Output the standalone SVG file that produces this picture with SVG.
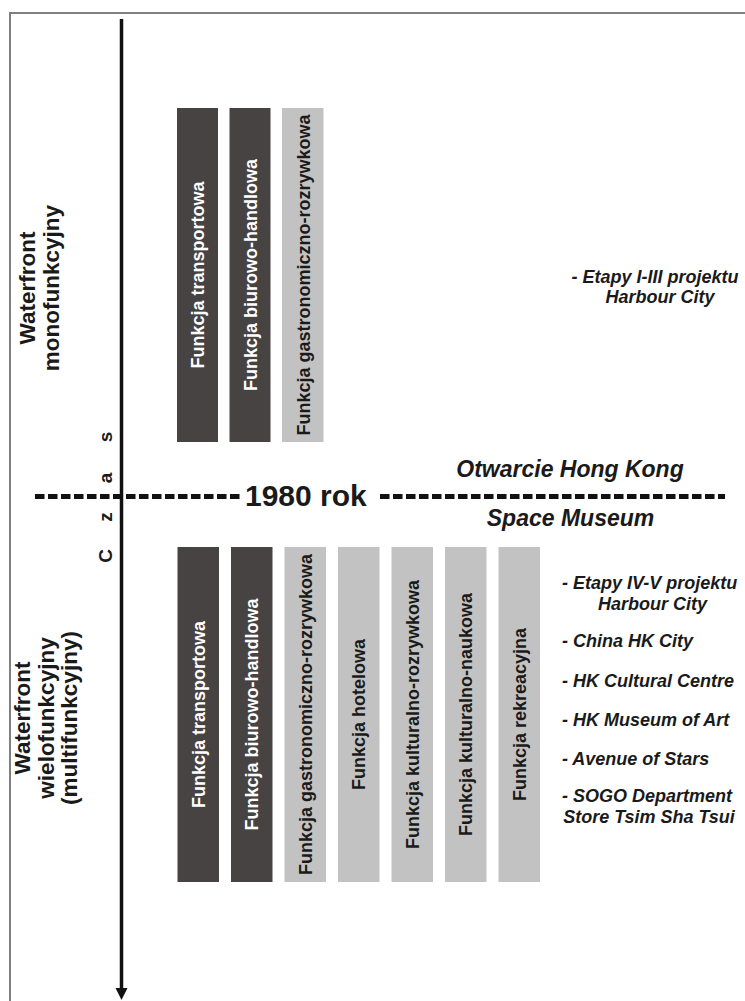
<svg xmlns="http://www.w3.org/2000/svg" width="745" height="1001" viewBox="0 0 745 1001">
<style>
.bg{fill:#ffffff}
.frame{fill:none;stroke:#808080;stroke-width:2}
.dark{fill:#484343}
.light{fill:#c2c2c2}
.bt{font-family:"Liberation Sans",Arial,sans-serif;font-weight:bold;font-size:18px;text-anchor:middle}
.bw{fill:#ffffff}
.bk{fill:#1a1a1a}
.lab{font-family:"Liberation Sans",Arial,sans-serif;font-weight:bold;font-size:22.5px;text-anchor:middle;fill:#1a1a1a}
.czas{font-family:"Liberation Sans",Arial,sans-serif;font-weight:bold;font-size:19px;text-anchor:middle;fill:#1a1a1a}
.it{font-family:"Liberation Sans",Arial,sans-serif;font-weight:bold;font-style:italic;font-size:18px;fill:#1a1a1a}
.itb{font-family:"Liberation Sans",Arial,sans-serif;font-weight:bold;font-style:italic;font-size:23px;fill:#1a1a1a;text-anchor:middle}
.year{font-family:"Liberation Sans",Arial,sans-serif;font-weight:bold;font-size:30px;fill:#1a1a1a}
.axis{stroke:#111111;stroke-width:3.5;fill:none}
.dash{stroke:#111111;stroke-width:5;stroke-dasharray:9.5 3.5;fill:none}
</style>
<rect class="bg" x="0" y="0" width="745" height="1001"/>
<path class="frame" d="M10,1001 V13 H745"/>

<g id="connectors">
  <line class="axis" x1="121.5" y1="19" x2="121.5" y2="990"/>
  <polygon points="115.5,988 127.5,988 121.5,1000" fill="#111111"/>
  <line class="dash" x1="35" y1="496.5" x2="240" y2="496.5"/>
  <line class="dash" x1="380" y1="496.5" x2="725" y2="496.5"/>
</g>

<g id="label-czas">
  <text class="czas" transform="translate(112,0) rotate(-90)"><tspan x="-556" y="0">C</tspan><tspan x="-517" y="0">z</tspan><tspan x="-478" y="0">a</tspan><tspan x="-437" y="0">s</tspan></text>
</g>

<g id="label-mono">
  <text class="lab" transform="translate(35,288) rotate(-90)">Waterfront</text>
  <text class="lab" transform="translate(59,288) rotate(-90)">monofunkcyjny</text>
</g>

<g id="label-multi">
  <text class="lab" transform="translate(30,718) rotate(-90)">Waterfront</text>
  <text class="lab" transform="translate(53.5,718) rotate(-90)">wielofunkcyjny</text>
  <text class="lab" transform="translate(77,718) rotate(-90)">(multifunkcyjny)</text>
</g>

<g id="top-transport">
  <rect class="dark" x="177" y="108" width="41" height="334"/>
  <text class="bt bw" transform="translate(204,275) rotate(-90)">Funkcja transportowa</text>
</g>
<g id="top-biurowo">
  <rect class="dark" x="229.5" y="108" width="41" height="334"/>
  <text class="bt bw" transform="translate(256.5,275) rotate(-90)">Funkcja biurowo-handlowa</text>
</g>
<g id="top-gastro">
  <rect class="light" x="282" y="108" width="41.5" height="334"/>
  <text class="bt bk" transform="translate(309.5,275) rotate(-90)">Funkcja gastronomiczno-rozrywkowa</text>
</g>

<g id="top-notes">
  <text class="it" x="655" y="283" text-anchor="middle">- Etapy I-III projektu</text>
  <text class="it" x="660" y="303" text-anchor="middle">Harbour City</text>
</g>

<g id="year-1980">
  <text class="year" x="245" y="506">1980 rok</text>
</g>
<g id="event-otwarcie">
  <text class="itb" x="570" y="477">Otwarcie Hong Kong</text>
</g>
<g id="event-space">
  <text class="itb" x="570.5" y="526">Space Museum</text>
</g>

<g id="bot-transport">
  <rect class="dark" x="177.5" y="547" width="41.5" height="335"/>
  <text class="bt bw" transform="translate(204.8,714.5) rotate(-90)">Funkcja transportowa</text>
</g>
<g id="bot-biurowo">
  <rect class="dark" x="231" y="547" width="41.5" height="335"/>
  <text class="bt bw" transform="translate(258.3,714.5) rotate(-90)">Funkcja biurowo-handlowa</text>
</g>
<g id="bot-gastro">
  <rect class="light" x="284.5" y="547" width="41.5" height="335"/>
  <text class="bt bk" transform="translate(311.8,714.5) rotate(-90)">Funkcja gastronomiczno-rozrywkowa</text>
</g>
<g id="bot-hotel">
  <rect class="light" x="338" y="547" width="41.5" height="335"/>
  <text class="bt bk" transform="translate(365.3,714.5) rotate(-90)">Funkcja hotelowa</text>
</g>
<g id="bot-kult-rozr">
  <rect class="light" x="391.5" y="547" width="41.5" height="335"/>
  <text class="bt bk" transform="translate(418.8,714.5) rotate(-90)">Funkcja kulturalno-rozrywkowa</text>
</g>
<g id="bot-kult-nauk">
  <rect class="light" x="445" y="547" width="41.5" height="335"/>
  <text class="bt bk" transform="translate(472.3,714.5) rotate(-90)">Funkcja kulturalno-naukowa</text>
</g>
<g id="bot-rekreacja">
  <rect class="light" x="498.5" y="547" width="41.5" height="335"/>
  <text class="bt bk" transform="translate(525.8,714.5) rotate(-90)">Funkcja rekreacyjna</text>
</g>

<g id="bottom-notes">
  <text class="it" x="562" y="589">- Etapy IV-V projektu</text>
  <text class="it" x="652.5" y="610" text-anchor="middle">Harbour City</text>
  <text class="it" x="562" y="647">- China HK City</text>
  <text class="it" x="562" y="687">- HK Cultural Centre</text>
  <text class="it" x="562" y="726">- HK Museum of Art</text>
  <text class="it" x="562" y="765">- Avenue of Stars</text>
  <text class="it" x="562" y="802">- SOGO Department</text>
  <text class="it" x="649" y="823" text-anchor="middle">Store Tsim Sha Tsui</text>
</g>
</svg>
